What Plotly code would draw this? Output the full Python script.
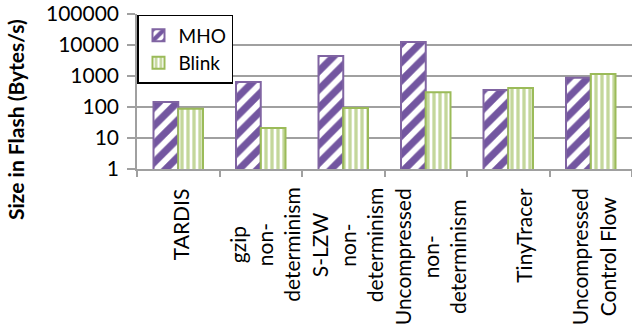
import plotly.graph_objects as go

categories = ["TARDIS", "gzip non-determinism", "S-LZW non-determinism",
              "Uncompressed non-determinism", "TinyTracer", "Uncompressed Control Flow"]
category_labels = ["TARDIS", "gzip<br>non-<br>determinism", "S-LZW<br>non-<br>determinism",
                   "Uncompressed<br>non-<br>determinism", "TinyTracer", "Uncompressed<br>Control Flow"]
mho = [145, 640, 4400, 12500, 355, 870]
blink = [87, 21, 93, 300, 410, 1150]
ytick_vals = [1, 10, 100, 1000, 10000, 100000]
ytick_text = ["1", "10", "100", "1000", "10000", "100000"]

FONT = "Lato"
GRID = "#A0A0A0"
FS = 21
W, H = 632, 328
ML, MT = 137, 14
PLOT_H = 155
MB = H - MT - PLOT_H
PLOT_W = W - ML

fig = go.Figure()
fig.add_trace(go.Bar(
    name="MHO", x=categories, y=mho,
    marker=dict(color="white",
                line=dict(color="#8064A2", width=2),
                pattern=dict(shape="/", fgcolor="#7356A0", bgcolor="white",
                             fgopacity=1, size=13, solidity=0.55)),
))
fig.add_trace(go.Bar(
    name="Blink", x=categories, y=blink,
    marker=dict(color="white",
                line=dict(color="#9BBB59", width=2),
                pattern=dict(shape="|", fgcolor="#C4D79B", bgcolor="white",
                             fgopacity=1, size=6, solidity=0.55)),
))

fig.update_layout(
    width=W, height=H,
    margin=dict(l=ML, r=0, t=MT, b=MB),
    plot_bgcolor="white", paper_bgcolor="white",
    barmode="group", bargap=0.4, bargroupgap=0,
    font=dict(family=FONT, size=FS, color="black"),
    showlegend=True,
    legend=dict(x=0, y=0.995, xanchor="left", yanchor="top",
                bordercolor="black", borderwidth=1.5, bgcolor="white",
                font=dict(family=FONT, size=19), tracegroupgap=0),
    xaxis=dict(type="category", tickson="boundaries", ticks="outside",
               ticklen=6, tickcolor=GRID, tickwidth=1.5,
               showline=True, linecolor=GRID, linewidth=1.5,
               showticklabels=False, automargin=False),
    yaxis=dict(type="log", range=[0, 5], tickvals=ytick_vals, ticktext=ytick_text,
               showgrid=True, gridcolor=GRID, gridwidth=1.5,
               ticks="outside", ticklen=8, tickcolor=GRID, tickwidth=1.5,
               showline=True, linecolor=GRID, linewidth=1.5,
               ticklabelstandoff=4, ticklabeloverflow="allow",
               tickfont=dict(family=FONT, size=FS),
               zeroline=False, automargin=False),
)

label_xshift = [2, 4, 4, 4, 15, 2]
for cat, lab, xs in zip(categories, category_labels, label_xshift):
    fig.add_annotation(
        text=lab, textangle=-90, align="center",
        xref="x", yref="paper", x=cat, y=0,
        xanchor="center", yanchor="top", yshift=-17, xshift=xs,
        showarrow=False, font=dict(family=FONT, size=FS, color="black"),
    )

fig.add_annotation(
    text="<b>Size in Flash (Bytes/s)</b>", textangle=-90,
    xref="paper", yref="paper",
    x=(15 - ML) / PLOT_W, y=(PLOT_H + MT - 120) / PLOT_H,
    xanchor="center", yanchor="middle", showarrow=False,
    font=dict(family=FONT, size=21, color="black"),
)

fig.write_html("out.html",
               config={"displayModeBar": False},
               post_script="document.body.style.margin='0';")
